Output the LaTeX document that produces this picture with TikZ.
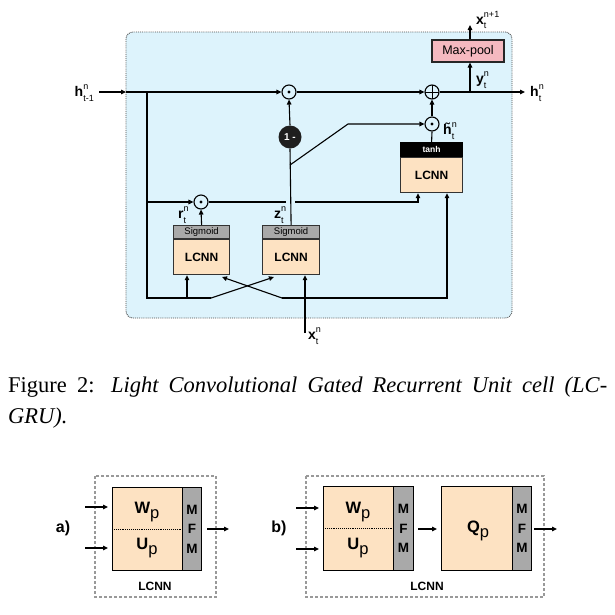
\documentclass[tikz,border=0pt]{standalone}
\usepackage{fontspec}
\setmainfont{Liberation Sans}
\newfontfamily\capfont{Liberation Serif}
\usetikzlibrary{arrows.meta,calc}
\definecolor{cellbg}{HTML}{DDF3FC}
\definecolor{peach}{HTML}{FDE2C2}
\definecolor{sighd}{HTML}{A9A9A9}
\definecolor{pool}{HTML}{F5B9C0}
\definecolor{edge}{HTML}{333333}
\newcommand\vlab[3]{\textbf{#1}\makebox[0pt][l]{\raisebox{1.0ex}{\fontsize{9}{9}\selectfont #2}}\raisebox{-0.6ex}{\fontsize{9}{9}\selectfont #3}}
\newcommand\labfont{\fontsize{14}{14}\selectfont}
\begin{document}
\begin{tikzpicture}[x=1pt,y=-1pt,
  conn/.style={line width=1.1pt, draw=black},
  arr/.style={conn,-{Triangle[length=5pt,width=4.6pt]}},
  opnode/.style={circle, draw=black, line width=1.1pt, minimum size=14pt, inner sep=0pt, fill=cellbg},
  dotop/.style={opnode, path picture={\fill[black] (path picture bounding box.center) circle (1.6pt);}},
  plusop/.style={opnode, path picture={\draw[black, line width=1pt] (path picture bounding box.north) -- (path picture bounding box.south) (path picture bounding box.west) -- (path picture bounding box.east);}},
  vlabel/.style={inner sep=0pt, font=\labfont},
  body/.style={draw=edge, line width=1.2pt, fill=peach, inner sep=0pt, font=\fontsize{12}{13}\selectfont\bfseries},
  sighead/.style={draw=edge, line width=1.2pt, fill=sighd, inner sep=0pt, font=\fontsize{9.5}{10}\selectfont},
  tanhhead/.style={draw=black, line width=1.2pt, fill=black, text=white, inner sep=0pt, font=\fontsize{8.5}{9}\selectfont\bfseries},
  mfm/.style={draw=black, line width=1.2pt, fill=sighd, inner sep=0pt, align=center, font=\fontsize{13.5}{19.5}\selectfont\bfseries},
  wbox/.style={draw=black, line width=1.2pt, fill=peach, inner sep=0pt},
  dashbox/.style={draw=gray!80, line width=1.1pt, dash pattern=on 3pt off 2pt},
  wlab/.style={inner sep=0pt, font=\fontsize{16.5}{17}\selectfont},
  panel/.style={inner sep=0pt, font=\fontsize{16}{17}\selectfont\bfseries},
  smallbold/.style={inner sep=0pt, font=\fontsize{12}{13}\selectfont\bfseries},
  captext/.style={anchor=base west, inner sep=0pt, font=\capfont\fontsize{22.5}{24}\selectfont}
]
\useasboundingbox (0,0) rectangle (615,614);

% ---------- top: LC-GRU cell ----------
\draw[densely dotted, draw=black!70, line width=0.9pt, fill=cellbg, rounded corners=7pt] (126,32) rectangle (512,318);

% operators
\node[dotop] (od1) at (289,92) {};
\node[plusop] (op) at (432,92) {};
\node[dotop] (od2) at (432,124) {};
\node[dotop] (odr) at (201,202) {};
\node[circle, fill=black!88, minimum size=23pt, inner sep=0pt, text=white, font=\fontsize{10}{10}\selectfont\bfseries] (om) at (290,137) {1 -};

% max-pool
\node[draw=black!85, line width=1.2pt, fill=pool, minimum width=72pt, minimum height=22pt, inner sep=0pt, font=\fontsize{12.5}{13}\selectfont] (mp) at (468,51) {Max-pool};

% tanh LCNN
\node[body, anchor=north west, minimum width=62pt, minimum height=35pt] (tbody) at (400,157) {LCNN};
\node[tanhhead, anchor=south west, minimum width=62pt, minimum height=14pt] (thead) at (400,157) {tanh};

% r gate
\node[body, anchor=north west, minimum width=56pt, minimum height=35pt] (rbody) at (173,239) {LCNN};
\node[sighead, anchor=south west, minimum width=56pt, minimum height=13pt] (rhead) at (173,239) {Sigmoid};
% z gate
\node[body, anchor=north west, minimum width=57pt, minimum height=35pt] (zbody) at (262,239) {LCNN};
\node[sighead, anchor=south west, minimum width=57pt, minimum height=13pt] (zhead) at (262,239) {Sigmoid};

% labels
\node[vlabel, anchor=east] (hinl) at (94,93) {\vlab{h}{n}{t-1}};
\node[vlabel, anchor=west] (houtl) at (530,93) {\vlab{h}{n}{t}};
\node[vlabel, anchor=west] (yl) at (476,80) {\vlab{y}{n}{t}};
\node[vlabel, anchor=west] (xol) at (476,20) {\vlab{x}{n+1}{t}};
\node[vlabel, anchor=west] (htl) at (443,131) {\vlab{\~{h}}{n}{t}};
\node[vlabel, anchor=west] (rl) at (178,215) {\vlab{r}{n}{t}};
\node[vlabel, anchor=west] (zl) at (274,215) {\vlab{z}{n}{t}};
\node[vlabel, anchor=west] (xl) at (308,336) {\vlab{x}{n}{t}};

% coordinates
\coordinate (cin) at (126,92);
\coordinate (j1) at (147,92);
\coordinate (jr) at (147,202);
\coordinate (b1) at (147,298);
\coordinate (b2) at (187,298);
\coordinate (b3) at (211,298);
\coordinate (zin) at (274,277);
\coordinate (b4) at (282,298);
\coordinate (rin) at (222,277);
\coordinate (xj) at (305,298);
\coordinate (xb) at (305,333);
\coordinate (b5) at (447,298);
\coordinate (zb) at (290,165);
\coordinate (dk) at (348,124);
\coordinate (g1) at (286,202);
\coordinate (g2) at (295,202);
\coordinate (tr) at (418,202);
\coordinate (jy) at (470,92);
\coordinate (hend) at (525,92);
\coordinate (xo) at (470,25);

% main line
\draw[arr] ([xshift=5pt]hinl.east |- cin) -- (cin);
\draw[arr] (cin) -- (od1.west);
\draw[arr] (od1.east) -- (op.west);
\draw[arr] (op.east) -- (hend);
\draw[arr] (jy) -- (jy |- mp.south);
\draw[arr] (jy |- mp.north) -- (xo);

% 1- and z path
\draw[arr] (om.north) -- (od1.south);
\draw[conn] (zhead.north) -- (om.south);
\draw[arr] (zb) -- (dk) -- (od2.west);
\draw[arr] (od2.north) -- (op.south);
\draw[conn] (thead.north) -- (od2.south);

% h_{t-1} branches
\draw[conn] (j1) -- (b1) -- (b2) -- (b3);
\draw[arr] (jr) -- (odr.west);
\draw[arr] (b2) -- (b2 |- rbody.south);
\draw[arr] (b3) -- (zin);
\draw[arr] (rhead.north) -- (odr.south);

% reset output to candidate
\draw[conn] (odr.east) -- (g1);
\draw[arr] (g2) -- (tr) -- (tr |- tbody.south);

% x input
\draw[arr] (xb) -- (xb |- zbody.south);
\draw[arr] (b4) -- (rin);
\draw[conn] (b4) -- (xj);
\draw[arr] (xj) -- (b5) -- (b5 |- tbody.south);

% ---------- caption ----------
\node[captext] (cap1) at (8,392) {\makebox[599pt][s]{Figure 2: \textit{Light Convolutional Gated Recurrent Unit cell (LC-}}};
\node[captext] (cap2) at (8,423) {\textit{GRU).}};

% ---------- bottom: a) ----------
\node[panel] (pa) at (63,528) {a)};
\draw[dashbox] (95,476) rectangle (216,597);
\node[wbox, anchor=north west, minimum width=70pt, minimum height=83pt] (awu) at (112,487) {};
\node[mfm, anchor=north west, minimum width=19pt, minimum height=83pt] (amfm) at (182,487) {M\\F\\M};
\draw[densely dotted, line width=0.9pt] (awu.west) -- (awu.east);
\node[wlab] (aw) at (147,512) {\textbf{W}\raisebox{-0.6ex}{p}};
\node[wlab] (au) at (147,548) {\textbf{U}\raisebox{-0.6ex}{p}};
\node[smallbold] (alc) at (155,586) {LCNN};
\coordinate (ai1) at (85,507);
\coordinate (ai2) at (85,548);
\coordinate (ao1) at (207,529);
\coordinate (ao2) at (229,529);
\draw[arr] (ai1) -- ([xshift=-4pt]ai1 -| awu.west);
\draw[arr] (ai2) -- ([xshift=-4pt]ai2 -| awu.west);
\draw[arr] (ao1) -- (ao2);

% ---------- bottom: b) ----------
\node[panel] (pb) at (279,528) {b)};
\draw[dashbox] (306,476) rectangle (544,597);
\node[wbox, anchor=north west, minimum width=70pt, minimum height=84pt] (bwu) at (323,486) {};
\node[mfm, anchor=north west, minimum width=20pt, minimum height=84pt] (bmfm1) at (393,486) {M\\F\\M};
\draw[densely dotted, line width=0.9pt] (bwu.west) -- (bwu.east);
\node[wlab] (bw) at (358,512) {\textbf{W}\raisebox{-0.6ex}{p}};
\node[wlab] (bu) at (358,548) {\textbf{U}\raisebox{-0.6ex}{p}};
\node[wbox, anchor=north west, minimum width=71pt, minimum height=84pt] (bq) at (441,486) {};
\node[mfm, anchor=north west, minimum width=19pt, minimum height=84pt] (bmfm2) at (512,486) {M\\F\\M};
\node[wlab] (bql) at (478,531) {\textbf{Q}\raisebox{-0.6ex}{p}};
\node[smallbold] (blc) at (427,586) {LCNN};
\coordinate (bi1) at (296,508);
\coordinate (bi2) at (296,549);
\coordinate (bm1) at (418,529);
\coordinate (bo1) at (534,529);
\coordinate (bo2) at (557,529);
\draw[arr] (bi1) -- ([xshift=-4pt]bi1 -| bwu.west);
\draw[arr] (bi2) -- ([xshift=-4pt]bi2 -| bwu.west);
\draw[arr] (bm1) -- ([xshift=-4pt]bm1 -| bq.west);
\draw[arr] (bo1) -- (bo2);
\end{tikzpicture}
\end{document}
